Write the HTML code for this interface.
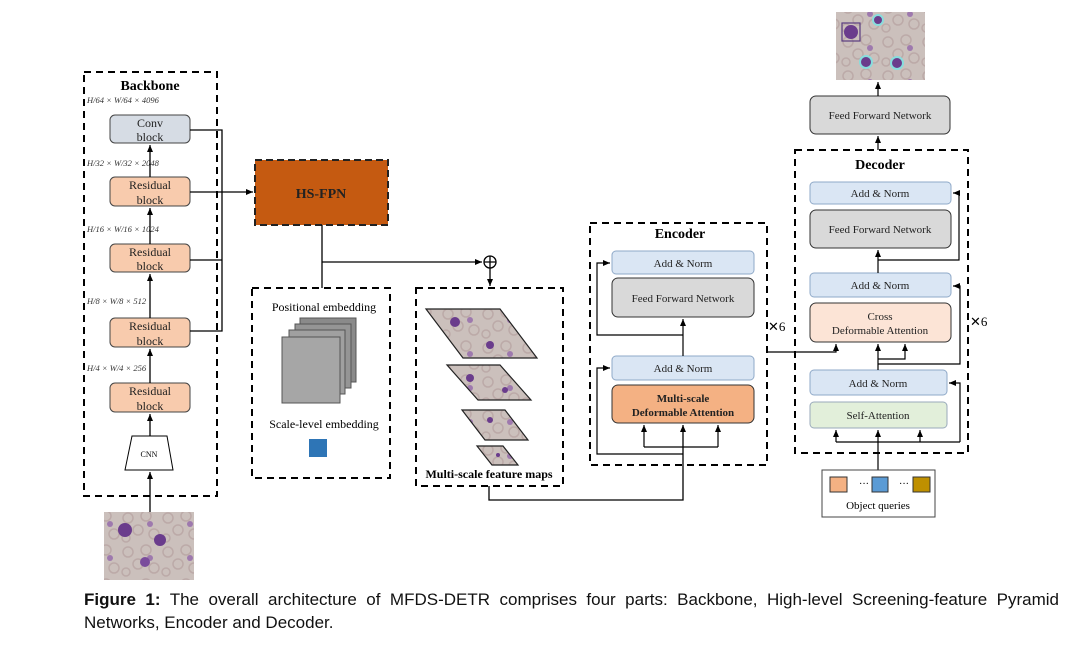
<!DOCTYPE html>
<html><head><meta charset="utf-8">
<style>
html,body{margin:0;padding:0;background:#fff;}
body{width:1080px;height:651px;position:relative;overflow:hidden;}
svg{position:absolute;left:0;top:0;}
.cap{position:absolute;left:84px;top:588px;width:975px;font-family:"Liberation Sans",sans-serif;font-size:17px;line-height:23px;text-align:justify;color:#111;}
</style></head><body>
<svg width="1080" height="651" viewBox="0 0 1080 651" font-family="Liberation Serif, serif">
<defs>
<marker id="a" markerWidth="8" markerHeight="8" refX="7" refY="4" orient="auto" markerUnits="userSpaceOnUse"><path d="M0,1 L7,4 L0,7 z" fill="#000"/></marker>
<pattern id="cells" width="40" height="34" patternUnits="userSpaceOnUse">
<rect width="40" height="34" fill="#cbc0bc"/>
<circle cx="8" cy="8" r="5" fill="none" stroke="#bcaaa8" stroke-width="1.5"/>
<circle cx="26" cy="6" r="5" fill="none" stroke="#bcaaa8" stroke-width="1.5"/>
<circle cx="18" cy="20" r="5" fill="none" stroke="#bcaaa8" stroke-width="1.5"/>
<circle cx="34" cy="24" r="5" fill="none" stroke="#bcaaa8" stroke-width="1.5"/>
<circle cx="6" cy="28" r="4" fill="none" stroke="#bcaaa8" stroke-width="1.5"/>
<circle cx="30" cy="14" r="3" fill="#8a5ca8" opacity="0.7"/>
</pattern>
</defs>
<g fill="none" stroke="#000" stroke-width="1.5">
<rect x="84" y="72" width="133" height="424" stroke-width="2" stroke-dasharray="7,5"/>
<rect x="252" y="288" width="138" height="190" stroke-width="2" stroke-dasharray="7,5"/>
<rect x="416" y="288" width="147" height="198" stroke-width="2" stroke-dasharray="7,5"/>
<rect x="590" y="223" width="177" height="242" stroke-width="2" stroke-dasharray="7,5"/>
<rect x="795" y="150" width="173" height="303" stroke-width="2" stroke-dasharray="7,5"/>
</g>
<text x="150" y="90" font-size="14" font-weight="bold" text-anchor="middle">Backbone</text>
<g font-size="8.5" font-style="italic" fill="#333">
<text x="87" y="103">H/64 × W/64 × 4096</text>
<text x="87" y="166">H/32 × W/32 × 2048</text>
<text x="87" y="232">H/16 × W/16 × 1024</text>
<text x="87" y="304">H/8 × W/8 × 512</text>
<text x="87" y="371">H/4 × W/4 × 256</text>
</g>
<g stroke="#444" stroke-width="1">
<rect x="110" y="115" width="80" height="28" rx="5" fill="#d6dce4"/>
<rect x="110" y="177" width="80" height="29" rx="5" fill="#f8cbad"/>
<rect x="110" y="244" width="80" height="28" rx="5" fill="#f8cbad"/>
<rect x="110" y="318" width="80" height="29" rx="5" fill="#f8cbad"/>
<rect x="110" y="383" width="80" height="29" rx="5" fill="#f8cbad"/>
</g>
<g font-size="12" text-anchor="middle" fill="#222">
<text x="150" y="127">Conv</text><text x="150" y="141">block</text>
<text x="150" y="189">Residual</text><text x="150" y="204">block</text>
<text x="150" y="256">Residual</text><text x="150" y="270">block</text>
<text x="150" y="330">Residual</text><text x="150" y="345">block</text>
<text x="150" y="395">Residual</text><text x="150" y="410">block</text>
</g>
<path d="M132,436 L167,436 L173,470 L125,470 Z" fill="#fff" stroke="#000"/>
<text x="149" y="457" font-size="8" text-anchor="middle">CNN</text>
<g stroke="#000" stroke-width="1.3" fill="none">
<path d="M150,512 V472" marker-end="url(#a)"/>
<path d="M150,436 V414" marker-end="url(#a)"/>
<path d="M150,383 V349" marker-end="url(#a)"/>
<path d="M150,318 V274" marker-end="url(#a)"/>
<path d="M150,244 V208" marker-end="url(#a)"/>
<path d="M150,177 V145" marker-end="url(#a)"/>
<path d="M190,130 H222 V331 H190"/>
<path d="M190,260 H222"/>
<path d="M190,192 H253" marker-end="url(#a)"/>
</g>
<rect x="104" y="512" width="90" height="68" fill="url(#cells)"/>
<circle cx="125" cy="530" r="7" fill="#6a3c8c"/><circle cx="160" cy="540" r="6" fill="#6a3c8c"/><circle cx="145" cy="562" r="5" fill="#7a4c9c"/>
<rect x="255" y="160" width="133" height="65" fill="#c55a11" stroke="#222" stroke-width="2" stroke-dasharray="7,4"/>
<text x="321" y="198" font-size="14" font-weight="bold" text-anchor="middle" fill="#222">HS-FPN</text>
<g stroke="#000" stroke-width="1.3" fill="none">
<path d="M322,225 V288"/>
<path d="M322,262 H482" marker-end="url(#a)"/>
<circle cx="490" cy="262" r="6"/><path d="M484,262 H496 M490,256 V268"/>
<path d="M490,268 V286" marker-end="url(#a)"/>
<path d="M489,486 V500 H683 V425" marker-end="url(#a)"/>
</g>
<text x="324" y="311" font-size="12" text-anchor="middle">Positional embedding</text>
<g stroke="#555" stroke-width="1">
<rect x="300" y="318" width="56" height="64" fill="#8a8a8a"/>
<rect x="295" y="324" width="56" height="64" fill="#959595"/>
<rect x="289" y="330" width="56" height="64" fill="#a0a0a0"/>
<rect x="282" y="337" width="58" height="66" fill="#a6a6a6"/>
</g>
<text x="324" y="428" font-size="12" text-anchor="middle">Scale-level embedding</text>
<rect x="309" y="439" width="18" height="18" fill="#2e75b6"/>
<g stroke="#222" stroke-width="1.2" fill="url(#cells)">
<path d="M426,309 L500,309 L537,358 L463,358 Z"/>
<path d="M447,365 L500,365 L531,400 L478,400 Z"/>
<path d="M462,410 L505,410 L528,440 L485,440 Z"/>
<path d="M477,446 L503,446 L518,465 L492,465 Z"/>
</g>
<g fill="#6a3c8c"><circle cx="455" cy="322" r="5"/><circle cx="490" cy="345" r="4"/><circle cx="470" cy="378" r="4"/><circle cx="505" cy="390" r="3"/><circle cx="490" cy="420" r="3"/><circle cx="498" cy="455" r="2"/></g>
<text x="489" y="478" font-size="12" font-weight="bold" text-anchor="middle">Multi-scale feature maps</text>
<text x="680" y="238" font-size="14" font-weight="bold" text-anchor="middle">Encoder</text>
<g stroke="#8fa9c8" stroke-width="1">
<rect x="612" y="251" width="142" height="23" rx="4" fill="#dae6f4"/>
<rect x="612" y="356" width="142" height="24" rx="4" fill="#dae6f4"/>
<rect x="810" y="182" width="141" height="22" rx="4" fill="#dae6f4"/>
<rect x="810" y="273" width="141" height="24" rx="4" fill="#dae6f4"/>
<rect x="810" y="370" width="137" height="25" rx="4" fill="#dae6f4"/>
</g>
<g stroke="#333" stroke-width="1">
<rect x="612" y="278" width="142" height="39" rx="6" fill="#d9d9d9"/>
<rect x="612" y="385" width="142" height="38" rx="6" fill="#f4b183"/>
<rect x="810" y="210" width="141" height="38" rx="6" fill="#d9d9d9"/>
<rect x="810" y="303" width="141" height="39" rx="6" fill="#fce4d6"/>
<rect x="810" y="402" width="137" height="26" rx="4" fill="#e2efda" stroke="#9ab"/>
<rect x="810" y="96" width="140" height="38" rx="6" fill="#d9d9d9"/>
</g>
<g font-size="11" text-anchor="middle" fill="#222">
<text x="683" y="267">Add &amp; Norm</text>
<text x="683" y="302">Feed Forward Network</text>
<text x="683" y="372">Add &amp; Norm</text>
<text x="683" y="402" font-weight="bold">Multi-scale</text>
<text x="683" y="416" font-weight="bold">Deformable Attention</text>
<text x="880" y="197">Add &amp; Norm</text>
<text x="880" y="233">Feed Forward Network</text>
<text x="880" y="289">Add &amp; Norm</text>
<text x="880" y="320">Cross</text>
<text x="880" y="334">Deformable Attention</text>
<text x="878" y="387">Add &amp; Norm</text>
<text x="878" y="419">Self-Attention</text>
<text x="880" y="119">Feed Forward Network</text>
</g>
<text x="880" y="169" font-size="14" font-weight="bold" text-anchor="middle">Decoder</text>
<g font-size="13"><text x="768" y="331">✕6</text><text x="970" y="326">✕6</text></g>
<g stroke="#000" stroke-width="1.2" fill="none">
<path d="M644,447 H718"/>
<path d="M644,447 V425" marker-end="url(#a)"/>
<path d="M718,447 V425" marker-end="url(#a)"/>
<path d="M683,454 H597 V368 H610" marker-end="url(#a)"/>
<path d="M683,356 V319" marker-end="url(#a)"/>
<path d="M683,335 H597 V263 H610" marker-end="url(#a)"/>
<path d="M767,352 H836 V344" marker-end="url(#a)"/>
<path d="M878,470 V430" marker-end="url(#a)"/>
<path d="M836,442 H960"/>
<path d="M836,442 V430" marker-end="url(#a)"/>
<path d="M920,442 V430" marker-end="url(#a)"/>
<path d="M960,442 V383 H949" marker-end="url(#a)"/>
<path d="M878,370 V344" marker-end="url(#a)"/>
<path d="M878,359 H905 V344" marker-end="url(#a)"/>
<path d="M878,364 H960 V286 H953" marker-end="url(#a)"/>
<path d="M878,273 V250" marker-end="url(#a)"/>
<path d="M878,260 H959 V193 H953" marker-end="url(#a)"/>
<path d="M878,150 V136" marker-end="url(#a)"/>
<path d="M878,96 V82" marker-end="url(#a)"/>
</g>
<rect x="822" y="470" width="113" height="47" fill="#fff" stroke="#444"/>
<rect x="830" y="477" width="17" height="15" fill="#f4b183" stroke="#333"/>
<rect x="872" y="477" width="16" height="15" fill="#5b9bd5" stroke="#333"/>
<rect x="913" y="477" width="17" height="15" fill="#bf9000" stroke="#333"/>
<text x="859" y="487" font-size="10">···</text><text x="899" y="487" font-size="10">···</text>
<text x="878" y="509" font-size="11" text-anchor="middle">Object queries</text>
<rect x="836" y="12" width="89" height="68" fill="url(#cells)"/>
<rect x="842" y="23" width="18" height="18" fill="none" stroke="#5a3c80" stroke-width="1.2"/>
<circle cx="851" cy="32" r="7" fill="#6a3c8c"/>
<circle cx="878" cy="20" r="5" fill="#6a3c8c" stroke="#8dd" stroke-width="2"/>
<circle cx="866" cy="62" r="6" fill="#6a3c8c" stroke="#8dd" stroke-width="2"/>
<circle cx="897" cy="63" r="6" fill="#6a3c8c" stroke="#8dd" stroke-width="2"/>
</svg>
<div class="cap"><b>Figure 1:</b> The overall architecture of MFDS-DETR comprises four parts: Backbone, High-level Screening-feature Pyramid Networks, Encoder and Decoder.</div>
</body></html>
